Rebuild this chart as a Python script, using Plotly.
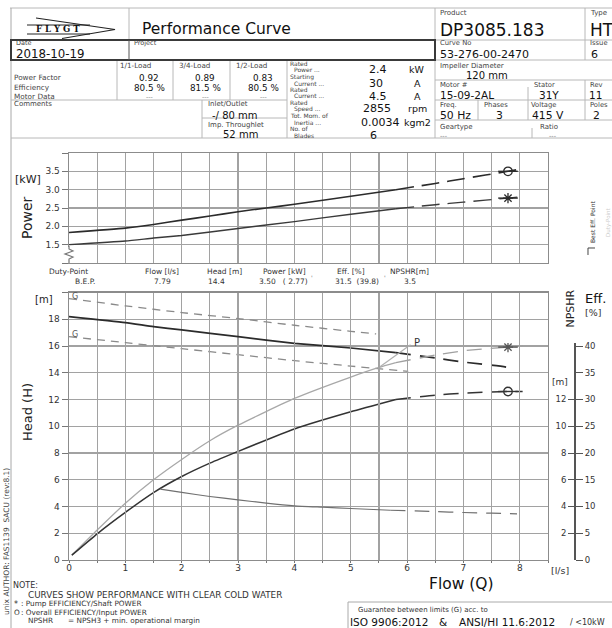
import plotly.graph_objects as go

FONT = "DejaVu Sans"
W, H = 612, 628

# ---------------- chart data ----------------
# Upper chart: power [kW] vs flow [l/s]
pin_q_solid = [0.0, 1.0, 1.5, 2.0, 2.5, 3.0, 3.5, 4.0, 5.0, 5.8]
pin_kw_solid = [1.83, 1.95, 2.05, 2.17, 2.28, 2.40, 2.50, 2.60, 2.82, 3.00]
pin_q_dash = [5.8, 6.5, 7.0, 7.79, 8.05]
pin_kw_dash = [3.00, 3.17, 3.30, 3.50, 3.57]

pshaft_q_solid = [0.0, 1.0, 1.5, 2.0, 3.0, 4.0, 5.0, 5.8]
pshaft_kw_solid = [1.50, 1.60, 1.68, 1.75, 1.94, 2.13, 2.33, 2.48]
pshaft_q_dash = [5.8, 6.5, 7.0, 7.79, 8.05]
pshaft_kw_dash = [2.48, 2.59, 2.66, 2.77, 2.81]

# Lower chart: head [m]
head_q_solid = [0.0, 1.0, 1.5, 2.0, 3.0, 4.0, 5.0, 5.8]
head_m_solid = [18.2, 17.75, 17.45, 17.2, 16.7, 16.2, 15.85, 15.5]
head_q_dash = [5.8, 6.5, 7.0, 7.79, 7.85]
head_m_dash = [15.5, 15.1, 14.8, 14.4, 14.3]

# Guarantee limits (G)
g_upper_q = [0.0, 1.0, 2.0, 3.0, 4.0, 5.0, 5.45]
g_upper_m = [19.55, 19.0, 18.5, 18.05, 17.55, 17.1, 16.9]
g_lower_q = [0.0, 1.0, 2.0, 3.0, 4.0, 5.0, 6.02]
g_lower_m = [16.7, 16.25, 15.8, 15.35, 14.9, 14.5, 14.1]

# Efficiency [%]
pump_eff_q_solid = [0.05, 0.5, 1.0, 1.5, 2.0, 2.5, 3.0, 4.0, 5.0, 5.5, 5.8]
pump_eff_solid = [0.9, 5.6, 10.6, 15.0, 18.8, 22.3, 25.2, 30.2, 34.2, 36.0, 36.9]
pump_eff_q_dash = [5.8, 6.5, 7.0, 7.79, 8.05]
pump_eff_dash = [36.9, 38.3, 39.1, 39.8, 40.0]
p_line_q = [5.5, 6.06]
p_line_eff = [36.0, 40.25]

overall_eff_q_solid = [0.05, 0.5, 1.0, 1.5, 2.0, 2.5, 3.0, 4.0, 5.0, 5.8]
overall_eff_solid = [0.9, 4.9, 8.9, 12.6, 15.6, 18.1, 20.3, 24.5, 27.7, 30.0]
overall_eff_q_dash = [5.8, 6.5, 7.0, 7.79, 8.05]
overall_eff_dash = [30.0, 30.8, 31.2, 31.5, 31.5]

# NPSHR [m]
npshr_q_solid = [1.62, 2.0, 2.5, 3.0, 3.5, 4.0, 4.5, 5.0, 5.7]
npshr_m_solid = [5.3, 5.05, 4.75, 4.5, 4.25, 4.05, 3.95, 3.85, 3.72]
npshr_q_dash = [5.7, 6.5, 7.0, 7.5, 7.95]
npshr_m_dash = [3.72, 3.62, 3.55, 3.5, 3.45]

# Best efficiency point (duty point)
bep_flow = 7.79
bep_head = 14.4
bep_power_in = 3.50
bep_power_shaft = 2.77
bep_eff_overall = 31.5
bep_eff_pump = 39.8
bep_npshr = 3.5

# Tick values / labels
flow_ticks = [i * 0.5 for i in range(18)]
flow_ticktext = [str(int(v)) if v == int(v) and v <= 8 else "" for v in flow_ticks]
power_ticks = [1.0, 1.5, 2.0, 2.5, 3.0, 3.5, 4.0]
power_ticktext = ["", "1.5", "2.0", "2.5", "3.0", "3.5", ""]
head_ticks = list(range(0, 21, 2))
head_ticktext = [str(v) for v in range(0, 19, 2)] + [""]
eff_ticks = list(range(0, 41, 5))
npshr_ticks = list(range(2, 13, 2))

# Header table contents
load_labels = ["1/1-Load", "3/4-Load", "1/2-Load"]
power_factor = ["0.92", "0.89", "0.83"]
motor_eff = ["80.5 %", "81.5 %", "80.5 %"]
rated_values = ["2.4", "30", "4.5", "2855", "0.0034", "6"]
rated_units = ["kW", "A", "A", "rpm", "kgm2", ""]

# ---------------- geometry helpers (pixel -> paper) ----------------
def X(px):
    return px / W


def Y(py):
    return 1 - py / H


X0, X1 = 69, 548             # flow axis 0 .. 8.5
LO_BOT, LO_TOP = 560, 292.5  # head axis 0 .. 20
UP_BOT, UP_TOP = 263, 153    # power axis 1 .. 4
EFF_TOP = 343
px_per_m = (LO_BOT - LO_TOP) / 20.0
px_per_pct = (LO_BOT - LO_TOP) / 50.0

DARK = "#2b2b2b"
GRID = "#a2a2a2"
FRAME = "#8c8c8c"

fig = go.Figure()


def add_line(q, v, xa, ya, color, width, dash="solid"):
    fig.add_trace(go.Scatter(
        x=q, y=v, xaxis=xa, yaxis=ya, mode="lines",
        line=dict(color=color, width=width, dash=dash, shape="spline", smoothing=0.5),
        hoverinfo="skip", showlegend=False))


def add_marker(q, v, xa, ya, symbol, color):
    fig.add_trace(go.Scatter(
        x=[q], y=[v], xaxis=xa, yaxis=ya, mode="markers",
        marker=dict(symbol="line-ew-open", size=14, color=color, line=dict(color=color, width=1.4)),
        hoverinfo="skip", showlegend=False))
    fig.add_trace(go.Scatter(
        x=[q], y=[v], xaxis=xa, yaxis=ya, mode="markers",
        marker=dict(symbol=symbol, size=8.5, color=color, line=dict(color=color, width=1.3)),
        hoverinfo="skip", showlegend=False))


LONG = "18px,8px"
MID = "15px,9px"
GDASH = "8px,6px"

# upper chart
add_line(pin_q_solid, pin_kw_solid, "x2", "y", DARK, 1.6)
add_line(pin_q_dash, pin_kw_dash, "x2", "y", DARK, 1.6, LONG)
add_line(pshaft_q_solid, pshaft_kw_solid, "x2", "y", "#3a3a3a", 1.4)
add_line(pshaft_q_dash, pshaft_kw_dash, "x2", "y", "#3a3a3a", 1.4, LONG)
add_marker(bep_flow, bep_power_in, "x2", "y", "circle-open", DARK)
add_marker(bep_flow, bep_power_shaft, "x2", "y", "asterisk-open", DARK)

# lower chart: head + G limits
add_line(g_upper_q, g_upper_m, "x", "y2", "#8a8a8a", 1.3, GDASH)
add_line(g_lower_q, g_lower_m, "x", "y2", "#8a8a8a", 1.3, GDASH)
add_line(head_q_solid, head_m_solid, "x", "y2", DARK, 1.7)
add_line(head_q_dash, head_m_dash, "x", "y2", DARK, 1.7, MID)

# efficiencies
add_line(pump_eff_q_solid, pump_eff_solid, "x", "y3", "#a8a8a8", 1.3)
add_line(pump_eff_q_dash, pump_eff_dash, "x", "y3", "#a0a0a0", 1.3, MID)
add_line(p_line_q, p_line_eff, "x", "y3", "#b0b0b0", 1.2)
add_line(overall_eff_q_solid, overall_eff_solid, "x", "y3", "#333333", 1.5)
add_line(overall_eff_q_dash, overall_eff_dash, "x", "y3", "#333333", 1.5, MID)
add_marker(bep_flow, bep_eff_pump, "x", "y3", "asterisk-open", "#555555")
add_marker(bep_flow, bep_eff_overall, "x", "y3", "circle-open", "#333333")

# NPSHR
add_line(npshr_q_solid, npshr_m_solid, "x", "y4", "#707070", 1.2)
add_line(npshr_q_dash, npshr_m_dash, "x", "y4", "#707070", 1.2, MID)

xdom = [X(X0), X(X1)]
eff_dom = [Y(LO_BOT), Y(EFF_TOP)]
eff_max = (LO_BOT - EFF_TOP) / px_per_pct
npshr_max = (LO_BOT - EFF_TOP) / px_per_m

common_axis = dict(showgrid=True, gridcolor=GRID, gridwidth=1.2, zeroline=False,
                   showline=True, linecolor=FRAME, linewidth=1.4, mirror=True,
                   tickcolor="#777", tickfont=dict(family=FONT, size=9, color="#333"),
                   fixedrange=True, automargin=False)

fig.update_layout(
    width=W, height=H,
    margin=dict(l=0, r=0, t=0, b=0, pad=0),
    paper_bgcolor="white", plot_bgcolor="rgba(0,0,0,0)",
    showlegend=False,
    font=dict(family=FONT, color="#222"),
    xaxis=dict(domain=xdom, range=[0, 8.5], anchor="y2", tickmode="array",
               tickvals=flow_ticks, ticktext=flow_ticktext, ticks="outside", ticklen=2,
               ticklabelstandoff=-3, **common_axis),
    xaxis2=dict(domain=xdom, range=[0, 8.5], anchor="y", tickmode="array",
                tickvals=flow_ticks, showticklabels=False, ticks="", **common_axis),
    yaxis=dict(domain=[Y(UP_BOT), Y(UP_TOP)], range=[1, 4], anchor="x2", tickmode="array",
               tickvals=power_ticks, ticktext=power_ticktext, ticks="outside", ticklen=6,
               **common_axis),
    yaxis2=dict(domain=[Y(LO_BOT), Y(LO_TOP)], range=[0, 20], anchor="x", tickmode="array",
                tickvals=head_ticks, ticktext=head_ticktext, ticks="outside", ticklen=6,
                **common_axis),
    yaxis3=dict(domain=eff_dom, range=[0, eff_max], anchor="free", position=X(575),
                side="right", tickmode="array", tickvals=eff_ticks, ticks="outside",
                ticklen=7, tickcolor="#555", showline=True, linecolor="#555", linewidth=2,
                showgrid=False, zeroline=False, fixedrange=True, automargin=False,
                tickfont=dict(family=FONT, size=8.5, color="#333")),
    yaxis4=dict(domain=eff_dom, range=[0, npshr_max], anchor="free", position=X(575),
                side="left", tickmode="array", tickvals=npshr_ticks, ticks="outside",
                ticklen=7, tickcolor="#555", showline=False, showgrid=False, zeroline=False,
                fixedrange=True, automargin=False,
                tickfont=dict(family=FONT, size=8.5, color="#333")),
)

# ---------------- annotations ----------------
anns = []


def txt(s, x, y, size=7.5, anchor="left", color="#222", angle=0, family=FONT):
    anns.append(dict(x=X(x), y=Y(y), xref="paper", yref="paper", text=s, showarrow=False,
                     xanchor=anchor, yanchor="middle", textangle=angle,
                     font=dict(size=size, color=color, family=family), borderpad=0))


LBL = "#444"
# header - left
txt("<b>F L Y G T</b>", 58, 29.5, 8.5, "center", "#111", family="DejaVu Serif")
txt("Performance Curve", 216, 29, 15.5, "center", "#111")
txt("Date", 15, 43.3, 6.5, color=LBL)
txt("2018-10-19", 15, 54.3, 11.8, color="#111")
txt("Project", 133, 43.3, 6.5, color=LBL)
for lbl, cx in zip(load_labels, [135.5, 194, 251]):
    txt(lbl, cx, 65, 7.2, "center", LBL)
txt("Power Factor", 13, 78, 7.3, color=LBL)
txt("Efficiency", 13, 87.3, 7.3, color=LBL)
txt("Motor Data", 13, 96.3, 7.3, color=LBL)
for pf, ef, cx in zip(power_factor, motor_eff, [149, 205.5, 263]):
    txt(pf, cx, 78, 8.8, "center", "#111")
    txt(ef, cx, 88, 8.8, "center", "#111")
    txt("---", cx, 96.8, 6.2, "center", "#777")
txt("Comments", 13, 104.3, 7, color=LBL)
txt("Inlet/Outlet", 207, 103.8, 7, color=LBL)
txt("-/ 80 mm", 211, 116, 10, color="#111")
txt("Imp. Throughlet", 207, 125.3, 7, color=LBL)
txt("52 mm", 240, 134.5, 10, "center", "#111")

rated_lines = [("Rated", 289, 63.5), ("Power ...", 293, 70), ("Starting", 289, 76.5),
               ("Current ...", 293, 83), ("Rated", 289, 89.3), ("Current ...", 293, 95.7),
               ("Rated", 289, 102.5), ("Speed ...", 293, 108.8), ("Tot. Mom. of", 289, 115.5),
               ("Inertia ...", 293, 122.3), ("No. of", 289, 128.6), ("Blades", 293, 135)]
for s, x, y in rated_lines:
    txt(s, x, y, 6.0, color=LBL)
for v, u, x, y in zip(rated_values, rated_units, [368, 368, 368, 362, 360, 369],
                      [70, 83, 96.5, 108.5, 122.5, 135]):
    txt(v, x, y, 11, color="#111")
    if u:
        txt(u, 417, y, 9.5, "center", "#111")

# header - right
txt("Product", 439, 12.8, 7, color=LBL)
txt("DP3085.183", 439, 30, 17, color="#111")
txt("Type", 589, 12.8, 7, color=LBL)
txt("HT", 589, 30, 17, color="#111")
txt("Curve No", 439, 43.5, 6.8, color=LBL)
txt("53-276-00-2470", 439, 54.3, 11, color="#111")
txt("Issue", 589, 43.5, 6.8, color=LBL)
txt("6", 590, 54.3, 11, color="#111")
txt("Impeller Diameter", 439, 66.3, 7, color=LBL)
txt("120 mm", 465, 75.3, 10, color="#111")
txt("Motor #", 439, 85.5, 6.8, color=LBL)
txt("Stator", 533, 85.5, 6.8, color=LBL)
txt("Rev", 589, 85.5, 6.8, color=LBL)
txt("15-09-2AL", 439, 94.5, 10.5, color="#111")
txt("31Y", 538, 94.5, 10.5, color="#111")
txt("11", 588, 94.5, 10.5, color="#111")
txt("Freq.", 439, 104.8, 6.8, color=LBL)
txt("Phases", 483, 104.8, 6.8, color=LBL)
txt("Voltage", 530, 104.8, 6.8, color=LBL)
txt("Poles", 589, 104.8, 6.8, color=LBL)
txt("50 Hz", 439, 115.7, 10.8, color="#111")
txt("3", 499, 115.7, 10.8, "center", "#111")
txt("415 V", 531, 115.7, 10.8, color="#111")
txt("2", 596, 115.7, 10.8, "center", "#111")
txt("Geartype", 439, 127.3, 7, color=LBL)
txt("Ratio", 539, 127.3, 7, color=LBL)
txt("---", 439, 135.8, 6.5, color="#777")
txt("---", 548, 135.8, 6.5, color="#777")

# chart labels
txt("[kW]", 28, 180, 11, "center", "#222")
txt("Power", 27, 218, 14, "center", "#222", -90)
txt("Duty-Point", 48, 271, 7.5, color="#333")
txt("B.E.P.", 84.5, 281.5, 7.5, "center", "#333")
txt("Flow [l/s]", 161.5, 271, 7.5, "center", "#333")
txt(f"{bep_flow:.2f}", 162.5, 281.5, 7.5, "center", "#333")
txt("Head [m]", 224.5, 271, 7.5, "center", "#333")
txt(f"{bep_head:.1f}", 216.5, 281.5, 7.5, "center", "#333")
txt("Power [kW]", 284.5, 271, 7.5, "center", "#333")
txt(f"{bep_power_in:.2f}&nbsp;&nbsp;&nbsp;( {bep_power_shaft:.2f})", 283, 281.5, 7.5, "center", "#333")
txt("'", 312, 277, 6, "center", "#666")
txt("Eff. [%]", 350.5, 271, 7.5, "center", "#333")
txt(f"{bep_eff_overall:.1f}&nbsp;&nbsp;({bep_eff_pump:.1f})", 356.5, 281.5, 7.5, "center", "#333")
txt("'", 385, 277, 6, "center", "#666")
txt("NPSHR[m]", 409.5, 271, 7.5, "center", "#333")
txt(f"{bep_npshr:.1f}", 409.5, 281.5, 7.5, "center", "#333")

txt("[m]", 44, 299, 10, "center", "#222")
txt("Head (H)", 27, 412, 13, "center", "#222", -90)
txt("Flow (Q)", 461.5, 584, 15.5, "center", "#111")
txt("[l/s]", 560, 570, 9.5, "center", "#333")
txt("NPSHR", 570, 308.5, 11, "center", "#222", -90)
txt("Eff.", 595, 298, 13, "center", "#111")
txt("[%]", 593, 313, 9.5, "center", "#333")
txt("[m]", 560, 382, 9, "center", "#333")
txt("Best Eff. Point", 592.5, 222.5, 6, "center", "#333", -90)
txt("Duty-Point", 608, 222, 5.5, "center", "#cccccc", -90)

# G and P labels at curve ends (positioned from the data)
for q, m in [(g_upper_q[0], g_upper_m[0]), (g_lower_q[0], g_lower_m[0])]:
    anns.append(dict(x=q, y=m, xref="x", yref="y2", text="G", showarrow=False,
                     xanchor="left", yanchor="middle", xshift=1, yshift=2,
                     font=dict(size=8, color="#555", family=FONT)))
anns.append(dict(x=p_line_q[-1], y=p_line_eff[-1], xref="x", yref="y3", text="P",
                 showarrow=False, xanchor="left", yanchor="middle", xshift=1, yshift=2,
                 font=dict(size=10, color="#333", family=FONT)))

# notes
txt("NOTE:", 12, 585, 8, color="#333")
txt("CURVES SHOW PERFORMANCE WITH CLEAR COLD WATER", 27, 595, 8.8, color="#333")
txt("*", 13, 604, 8, color="#333")
txt(": Pump EFFICIENCY/Shaft POWER", 20, 603, 7.3, color="#333")
txt("O", 13, 612, 7.3, color="#333")
txt(": Overall EFFICIENCY/Input POWER", 20, 612, 7.3, color="#333")
txt("NPSHR", 27, 620, 7.3, color="#333")
txt("= NPSH3 + min. operational margin", 67, 620, 7.3, color="#333")
txt("Guarantee between limits (G) acc. to", 357, 610, 7, color="#333")
txt("ISO 9906:2012", 349, 622, 10.5, color="#111")
txt("&", 443, 622, 10.5, "center", "#111")
txt("ANSI/HI 11.6:2012", 458, 622, 10.5, color="#111")
txt("/ <10kW", 569, 622, 8, color="#333")
txt("unix AUTHOR: FAS1139&nbsp;&nbsp;SACU (rev:8.1)", 6, 542, 7.5, "center", "#444", -90)

fig.update_layout(annotations=anns)

# ---------------- decorative lines (header table etc.) ----------------
shapes = []
HL = "#b8b8b8"


def seg(x0, y0, x1, y1, color=HL, width=1):
    shapes.append(dict(type="line", xref="paper", yref="paper", x0=X(x0), y0=Y(y0),
                       x1=X(x1), y1=Y(y1), line=dict(color=color, width=width)))


def path(points, color="#333", width=1):
    d = "M " + " L ".join(f"{X(a):.5f},{Y(b):.5f}" for a, b in points)
    shapes.append(dict(type="path", xref="paper", yref="paper", path=d,
                       line=dict(color=color, width=width)))


seg(10, 8, 612, 8)
seg(11, 8, 11, 628, "#a8a8a8")
seg(129, 8, 129, 40)
seg(435, 8, 435, 138)
seg(585, 8, 585, 60)
seg(585, 80, 585, 120)
seg(11, 40, 612, 40)
seg(435, 60, 612, 60)
seg(435, 80, 612, 80)
seg(435, 100, 612, 100)
seg(11, 100, 287, 100)
seg(435, 120, 612, 120)
seg(202, 118, 287, 118)
seg(11, 138, 612, 138)
for xv in [117, 173, 230]:
    seg(xv, 60, xv, 100)
seg(287, 60, 287, 138)
seg(202, 100, 202, 138)
seg(528, 87, 528, 120)
seg(478, 100, 478, 120)
seg(532, 128, 532, 138)
# thick date/project box
shapes.append(dict(type="rect", xref="paper", yref="paper", x0=X(11), y0=Y(60), x1=X(435),
                   y1=Y(40), line=dict(color="#3a3a3a", width=2)))
seg(129, 40, 129, 60, "#555", 1)
# logo
path([(36, 18), (115, 29.5), (62, 38.5)], "#222", 1.2)
seg(27, 25, 90, 25, "#222", 1)
seg(27, 34, 90, 34, "#222", 1)
# axis break zigzag on power axis
shapes.append(dict(type="rect", xref="paper", yref="paper", x0=X(67), y0=Y(263), x1=X(71),
                   y1=Y(247), fillcolor="white", line=dict(width=0)))
path([(69, 246), (69, 249), (73, 251), (65, 254), (73, 257), (69, 259), (69, 263)], "#777", 1.2)
# best eff. point legend bracket
path([(588, 255), (588, 248), (595, 248)], "#444", 1)
# guarantee box
shapes.append(dict(type="rect", xref="paper", yref="paper", x0=X(348), y0=Y(640), x1=X(620),
                   y1=Y(602), line=dict(color="#aaaaaa", width=1)))

fig.update_layout(shapes=shapes)

fig.write_html(
    "out.html",
    config={"displayModeBar": False, "staticPlot": True},
    post_script="document.body.style.margin='0';document.body.style.overflow='hidden';",
)
